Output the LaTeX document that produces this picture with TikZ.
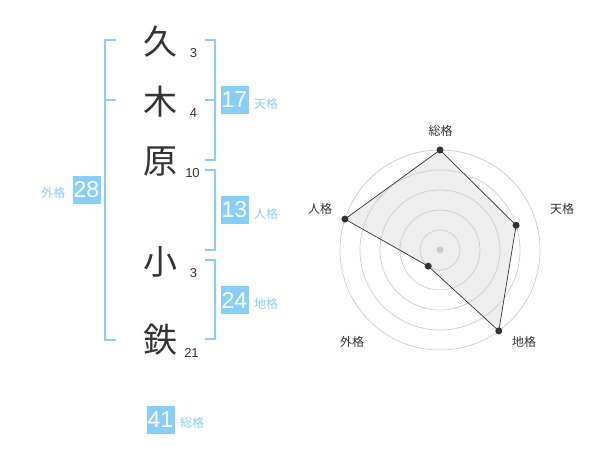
\documentclass[tikz,border=0pt]{standalone}
\usepackage{fontspec}
\setmainfont{Liberation Sans}
\newfontfamily\cjk{Noto Sans CJK JP}
\definecolor{kblue}{HTML}{87CEFA}
\definecolor{ktext}{HTML}{333333}
\definecolor{kgrid}{HTML}{CCCCCC}
\definecolor{kfill}{HTML}{EEEEEE}
\tikzset{
  kanji/.style={font=\cjk\fontsize{34}{34}\selectfont, text=ktext, inner sep=0pt},
  stroke/.style={font=\fontsize{13}{13}\selectfont, text=ktext, inner sep=0pt},
  numbox/.style={fill=kblue, text=white, minimum width=28pt, minimum height=28pt, inner sep=0pt, font=\fontsize{23}{23}\selectfont},
  kakulabel/.style={font=\cjk\fontsize{12}{12}\selectfont, text=kblue, inner sep=0pt},
  brk/.style={draw=kblue, line width=2pt},
  ring/.style={draw=kgrid, line width=0.7pt},
  axislabel/.style={font=\cjk\fontsize{12}{12}\selectfont, text=ktext, inner sep=0pt},
  dot/.style={circle, fill=ktext, inner sep=0pt, minimum size=7pt},
  polyfill/.style={fill=kfill},
  polyline/.style={draw=ktext, line width=0.7pt},
}
\begin{document}
\begin{tikzpicture}[x=1pt,y=-1pt]
\useasboundingbox (0,0) rectangle (600,470);
% characters
\node[kanji] (k1) at (160,42) {久};
\node[kanji] (k2) at (160,102) {木};
\node[kanji] (k3) at (160,162) {原};
\node[kanji] (k4) at (160,262) {小};
\node[kanji] (k5) at (160,340) {鉄};
\node[stroke] (s1) at (193.5,53) {3};
\node[stroke] (s2) at (193.5,113.5) {4};
\node[stroke] (s3) at (192.5,173) {10};
\node[stroke] (s4) at (193.5,273) {3};
\node[stroke] (s5) at (191.5,353) {21};
% left bracket (gaikaku)
\coordinate (lt) at (116,40);
\coordinate (lm) at (116,100);
\coordinate (lb) at (116,340);
\draw[brk] (lt) -- (105,40) -- (105,340) -- (lb);
\draw[brk] (lm) -- (105,100);
\node[numbox] (g) at (86.5,190) {28};
\node[kakulabel] (gl) at (53.5,193) {外格};
% tenkaku bracket
\coordinate (t1) at (205,40);
\coordinate (t2) at (205,100);
\coordinate (t3) at (205,160);
\draw[brk] (t1) -- (214.5,40) -- (214.5,160) -- (t3);
\draw[brk] (t2) -- (214.5,100);
\node[numbox] (t) at (234.5,100) {17};
\node[kakulabel] (tl) at (266,104) {天格};
% jinkaku bracket
\coordinate (j1) at (205,170);
\coordinate (j2) at (205,250);
\draw[brk] (j1) -- (214.5,170) -- (214.5,250) -- (j2);
\node[numbox] (j) at (234.5,210) {13};
\node[kakulabel] (jl) at (266,214) {人格};
% chikaku bracket
\coordinate (c1) at (205,260);
\coordinate (c2) at (205,339.5);
\draw[brk] (c1) -- (214.5,260) -- (214.5,339.5) -- (c2);
\node[numbox] (c) at (234.5,300) {24};
\node[kakulabel] (cl) at (266,304) {地格};
% soukaku
\node[numbox] (s) at (160.5,419.5) {41};
\node[kakulabel] (sl) at (192,422.5) {総格};
% radar
\coordinate (o) at (440,250);
\coordinate (p1) at (440,150);
\coordinate (p2) at (516.1,225.3);
\coordinate (p3) at (498.8,330.9);
\coordinate (p4) at (428.2,266.2);
\coordinate (p5) at (344.9,219.1);
\fill[polyfill] (p1) -- (p2) -- (p3) -- (p4) -- (p5) -- cycle;
\foreach \r in {20,40,60,80,100} \draw[ring] (o) circle (\r);
\fill[kgrid] (o) circle (3.5);
\draw[polyline] (p1) -- (p2) -- (p3) -- (p4) -- (p5) -- cycle;
\foreach \p in {p1,p2,p3,p4,p5} \node[dot] at (\p) {};
\node[axislabel] (a1) at (440.5,131) {総格};
\node[axislabel] (a2) at (562,208.5) {天格};
\node[axislabel] (a3) at (524,342) {地格};
\node[axislabel] (a4) at (352,342) {外格};
\node[axislabel] (a5) at (320,208.5) {人格};
\end{tikzpicture}
\end{document}
